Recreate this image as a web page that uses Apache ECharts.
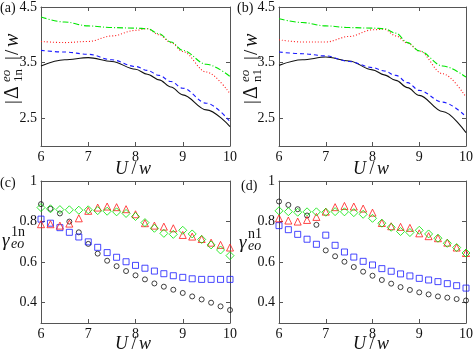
<!DOCTYPE html>
<html>
<head>
<meta charset="utf-8">
<script src="https://cdn.jsdelivr.net/npm/echarts@6/dist/echarts.min.js"></script>
<style>
html,body{margin:0;padding:0;background:#fff}
#main{width:476px;height:354px}
</style>
</head>
<body>
<div id="main"></div>
<script>
// U/w grid for the curves of (a),(b)
var uLine = [6, 6.5, 7, 7.5, 8, 8.25, 8.5, 8.75, 9, 9.5, 10];
var aGreen = [4.32, 4.23, 4.16, 4.13, 4.12, 4.11, 4.02, 3.87, 3.72, 3.47, 3.25];
var aRed   = [3.88, 3.86, 3.88, 3.98, 4.08, 4.11, 4.00, 3.86, 3.70, 3.33, 2.94];
var aBlue  = [3.72, 3.69, 3.65, 3.55, 3.43, 3.36, 3.27, 3.16, 3.04, 2.77, 2.44];
var aBlack = [3.44, 3.55, 3.59, 3.52, 3.38, 3.29, 3.19, 3.06, 2.92, 2.65, 2.35];
var bGreen = [4.29, 4.22, 4.16, 4.13, 4.12, 4.11, 4.03, 3.86, 3.71, 3.44, 3.24];
var bRed   = [3.91, 3.87, 3.87, 3.97, 4.09, 4.10, 3.98, 3.85, 3.71, 3.30, 2.88];
var bBlue  = [3.69, 3.66, 3.62, 3.52, 3.41, 3.35, 3.27, 3.14, 3.00, 2.79, 2.53];
var bBlack = [3.45, 3.55, 3.60, 3.53, 3.37, 3.28, 3.18, 3.05, 2.91, 2.62, 2.24];

// U/w grid for the markers of (c),(d)
var uDot = [6, 6.2, 6.4, 6.6, 6.8, 7, 7.2, 7.4, 7.6, 7.8, 8, 8.2, 8.4, 8.6, 8.8, 9, 9.2, 9.4, 9.6, 9.8, 10];
var cBlack = [0.886, 0.863, 0.840, 0.800, 0.747, 0.690, 0.642, 0.607, 0.580, 0.556, 0.535, 0.515, 0.495, 0.479, 0.464, 0.448, 0.431, 0.416, 0.400, 0.382, 0.364];
var cBlue  = [0.812, 0.792, 0.770, 0.747, 0.724, 0.700, 0.673, 0.647, 0.624, 0.602, 0.584, 0.570, 0.556, 0.543, 0.533, 0.525, 0.518, 0.515, 0.515, 0.515, 0.515];
var cRed   = [0.787, 0.787, 0.780, 0.790, 0.816, 0.853, 0.869, 0.874, 0.871, 0.861, 0.836, 0.792, 0.780, 0.775, 0.767, 0.734, 0.726, 0.714, 0.696, 0.685, 0.672];
var cGreen = [0.869, 0.863, 0.859, 0.858, 0.856, 0.858, 0.854, 0.851, 0.848, 0.840, 0.825, 0.795, 0.767, 0.742, 0.737, 0.757, 0.739, 0.712, 0.685, 0.660, 0.632];
var dBlack = [0.899, 0.882, 0.861, 0.830, 0.784, 0.658, 0.629, 0.602, 0.576, 0.553, 0.533, 0.512, 0.494, 0.477, 0.463, 0.451, 0.441, 0.431, 0.425, 0.418, 0.411];
var dBlue  = [0.780, 0.760, 0.737, 0.713, 0.688, 0.733, 0.683, 0.650, 0.625, 0.604, 0.586, 0.568, 0.555, 0.542, 0.532, 0.520, 0.512, 0.504, 0.494, 0.484, 0.472];
var dRed   = [0.816, 0.805, 0.800, 0.808, 0.823, 0.849, 0.871, 0.877, 0.874, 0.864, 0.844, 0.793, 0.777, 0.774, 0.769, 0.742, 0.728, 0.718, 0.696, 0.672, 0.645];
var dGreen = [0.853, 0.849, 0.846, 0.848, 0.848, 0.846, 0.849, 0.848, 0.844, 0.836, 0.816, 0.792, 0.772, 0.751, 0.746, 0.757, 0.739, 0.718, 0.693, 0.672, 0.645];

var yTicksTop = [2.5, 3.5, 4.5];
var yTicksBot = [0.4, 0.6, 0.8, 1];

var FONT = 'Liberation Serif';
var GREEN = '#00e600', RED = '#ff1a1a', BLUE = '#1a1aff', BLACK = '#111';
var AXC = '#555';

var myChart = echarts.init(document.getElementById('main'));

var grids = [
    {left: 41, top: 5, width: 189, height: 141},
    {left: 279, top: 5, width: 189, height: 141},
    {left: 41, top: 181, width: 189, height: 142},
    {left: 279, top: 181, width: 189, height: 142}
];

function xAx(g, top) {
    return {
        type: 'value', gridIndex: g, position: top ? 'top' : 'bottom',
        min: 6, max: 10, interval: 1,
        axisLine: {show: true, onZero: false, lineStyle: {color: AXC, width: 1}},
        axisTick: {show: true, inside: true, length: 4, lineStyle: {color: AXC}},
        axisLabel: {show: !top, margin: 4, color: '#111', fontFamily: FONT, fontSize: 14},
        splitLine: {show: false}
    };
}
function yAx(g, right, lo, hi, ticks) {
    return {
        type: 'value', gridIndex: g, position: right ? 'right' : 'left',
        min: lo, max: hi,
        axisLine: {show: true, onZero: false, lineStyle: {color: AXC, width: 1}},
        axisTick: {show: true, inside: true, length: 4, lineStyle: {color: AXC}, customValues: ticks},
        axisLabel: {show: !right, margin: 4, color: '#111', fontFamily: FONT, fontSize: 14, customValues: ticks},
        splitLine: {show: false}
    };
}

var xAxes = [], yAxes = [];
for (var g = 0; g < 4; g++) {
    xAxes.push(xAx(g, false), xAx(g, true));
    if (g < 2) yAxes.push(yAx(g, false, 2, 4.5, yTicksTop), yAx(g, true, 2, 4.5, yTicksTop));
    else yAxes.push(yAx(g, false, 0.3, 1, yTicksBot), yAx(g, true, 0.3, 1, yTicksBot));
}

function pairs(xs, ys) {
    return xs.map(function (x, i) { return [x, ys[i]]; });
}
function curve(g, ys, color, type, width) {
    return {
        type: 'line', xAxisIndex: 2 * g, yAxisIndex: 2 * g,
        data: pairs(uLine, ys), showSymbol: false, smooth: 0.35, smoothMonotone: 'x',
        lineStyle: {color: color, width: width || 1.1, type: type}
    };
}
function dots(g, ys, color, symbol, size) {
    return {
        type: 'scatter', xAxisIndex: 2 * g, yAxisIndex: 2 * g,
        data: pairs(uDot, ys), symbol: symbol, symbolSize: size,
        itemStyle: {color: 'rgba(0,0,0,0)', borderColor: color, borderWidth: 1}
    };
}

var series = [
    curve(0, aBlack, BLACK, 'solid'),
    curve(0, aBlue, BLUE, [4, 3]),
    curve(0, aRed, RED, [1, 2]),
    curve(0, aGreen, GREEN, [6, 2, 1, 2]),
    curve(1, bBlack, BLACK, 'solid'),
    curve(1, bBlue, BLUE, [4, 3]),
    curve(1, bRed, RED, [1, 2]),
    curve(1, bGreen, GREEN, [6, 2, 1, 2]),
    dots(2, cBlack, BLACK, 'circle', 5),
    dots(2, cBlue, BLUE, 'rect', 6),
    dots(2, cRed, RED, 'triangle', 7),
    dots(2, cGreen, GREEN, 'diamond', 8),
    dots(3, dBlack, BLACK, 'circle', 5),
    dots(3, dBlue, BLUE, 'rect', 6),
    dots(3, dRed, RED, 'triangle', 7),
    dots(3, dGreen, GREEN, 'diamond', 8)
];

function txt(x, y, s, size, italic, align) {
    return {
        type: 'text', x: x, y: y,
        style: {text: s, fontFamily: FONT, fontSize: size, fontStyle: italic ? 'italic' : 'normal',
            fill: '#111', textAlign: align || 'left', textVerticalAlign: 'middle'}
    };
}

// rotated |Δ^{eo}_{..}|/w label
function deltaLabel(x, y, sub) {
    return {
        type: 'group', x: x, y: y, rotation: Math.PI / 2,
        children: [
            txt(0, 0, '|', 19, false),
            txt(5, 0, 'Δ', 20, false),
            txt(22, -6, 'eo', 13, true),
            txt(22, 6, sub, 13, false),
            txt(44, 0, '|', 19, false),
            txt(49, 0, '/', 19, false),
            txt(57, 0, 'w', 20, true)
        ]
    };
}
function gammaLabel(x, y, sup) {
    return {
        type: 'group', x: x, y: y,
        children: [
            txt(0, 0, 'γ', 19, true),
            txt(9, -9, sup, 14, false),
            txt(9, 3, 'eo', 14, true)
        ]
    };
}
// U/w axis title, pieces spread a little like the TeX original
function uwLabel(cx, cy) {
    return {
        type: 'group', x: cx, y: cy,
        children: [
            txt(-6, 0, 'U', 18, true, 'right'),
            txt(0, 0, '/', 18, false, 'center'),
            txt(5, 0, 'w', 18, true, 'left')
        ]
    };
}

var graphics = [
    txt(0, 8, '(a)', 14, false),
    txt(237, 8, '(b)', 14, false),
    txt(0, 183, '(c)', 14, false),
    txt(241, 186, '(d)', 14, false),
    uwLabel(134, 169),
    uwLabel(372, 169),
    uwLabel(134, 344),
    uwLabel(372, 344),
    deltaLabel(13, 104, '1n'),
    deltaLabel(252, 104, 'n1'),
    gammaLabel(2, 241, '1n'),
    gammaLabel(239, 243, 'n1')
];

option = {
    animation: false,
    backgroundColor: '#fff',
    grid: grids,
    xAxis: xAxes,
    yAxis: yAxes,
    series: series,
    graphic: graphics
};
myChart.setOption(option);
</script>
</body>
</html>
